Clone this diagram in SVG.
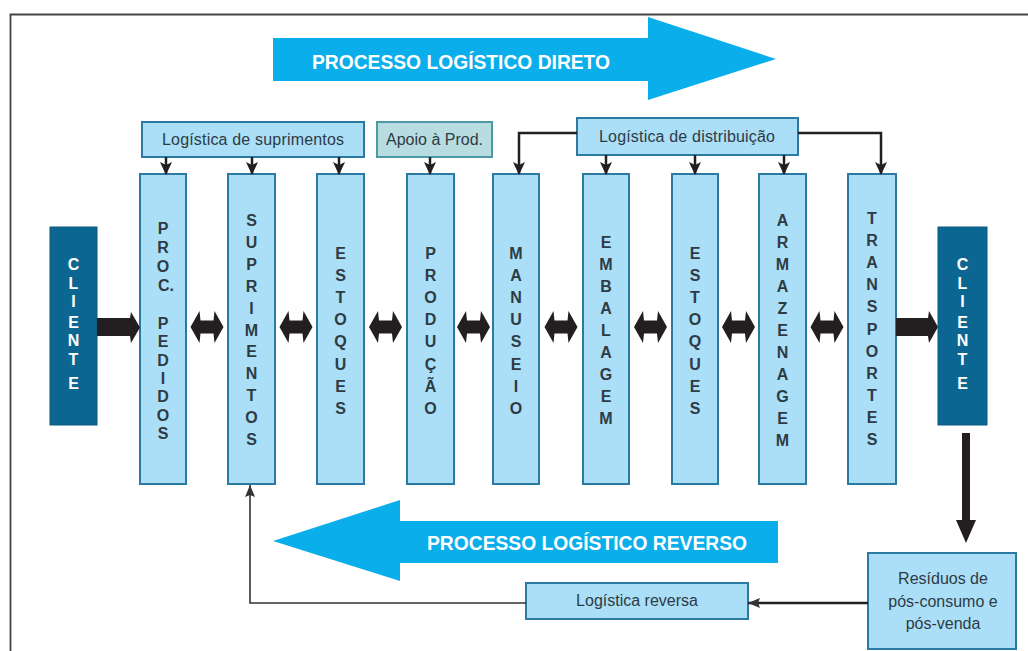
<svg xmlns="http://www.w3.org/2000/svg" width="1028" height="651" viewBox="0 0 1028 651">
<style>
.col{fill:#aadff7;stroke:#2a7aa3;stroke-width:2}
.lbl{fill:#aadff7;stroke:#2a7aa3;stroke-width:2}
.apoio{fill:#b8dde0;stroke:#4d9aa6;stroke-width:2}
.cli{fill:#0b6791;stroke:#0a5a80;stroke-width:1}
.big{fill:#0aaeea}
.ct{font-family:"Liberation Sans",Arial,sans-serif;font-weight:bold;font-size:16px;fill:#2e3b45;text-anchor:middle}
.cw{font-family:"Liberation Sans",Arial,sans-serif;font-weight:bold;font-size:16px;fill:#ffffff;text-anchor:middle}
.lt{font-family:"Liberation Sans",Arial,sans-serif;font-size:16px;fill:#2e3b45;text-anchor:middle}
.bt{font-family:"Liberation Sans",Arial,sans-serif;font-weight:bold;font-size:19.5px;fill:#ffffff}
.thick{fill:#231f20}
.ln{fill:none;stroke:#231f20;stroke-width:2.5}
.thin{fill:none;stroke:#333333;stroke-width:1.6}
</style>
<defs>
<marker id="ah" markerUnits="userSpaceOnUse" markerWidth="13" markerHeight="12" viewBox="0 0 13 12" refX="12" refY="6" orient="auto">
<path d="M0,0 L13,6 L0,12 L3,6 z" fill="#231f20"/>
</marker>
<marker id="ahs" markerUnits="userSpaceOnUse" markerWidth="12" markerHeight="10" viewBox="0 0 12 10" refX="12" refY="5" orient="auto">
<path d="M0,0 L12,5 L0,10 L2,5 z" fill="#333333"/>
</marker>
<path id="dbl" d="M-16.5,0 L-7.5,-16 L-6.5,-6.5 L6.5,-6.5 L7.5,-16 L16.5,0 L7.5,16 L6.5,6.5 L-6.5,6.5 L-7.5,16 Z"/>
</defs>

<rect width="1028" height="651" fill="#ffffff"/>
<path d="M10.5,651 L10.5,14.5 L1028,14.5" fill="none" stroke="#444444" stroke-width="1.8"/>

<g id="seta-direto">
<path class="big" d="M273,38 L648,38 L648,17 L776,59 L648,100 L648,81 L273,81 Z"/>
<text class="bt" x="312" y="69" textLength="298" lengthAdjust="spacingAndGlyphs">PROCESSO LOGÍSTICO DIRETO</text>
</g>

<g id="seta-reverso">
<path class="big" d="M273,541 L400,500 L400,521 L778,521 L778,563 L400,563 L400,581 Z"/>
<text class="bt" x="427" y="550" textLength="320" lengthAdjust="spacingAndGlyphs">PROCESSO LOGÍSTICO REVERSO</text>
</g>

<g id="log-suprimentos">
<rect class="lbl" x="142" y="122" width="222" height="35"/>
<text class="lt" x="253" y="145" textLength="182" lengthAdjust="spacing">Logística de suprimentos</text>
</g>
<g id="apoio-prod">
<rect class="apoio" x="377" y="122" width="115" height="35"/>
<text class="lt" x="434.5" y="145">Apoio à Prod.</text>
</g>
<g id="log-distribuicao">
<rect class="lbl" x="577" y="118" width="221" height="37"/>
<text class="lt" x="687" y="142" textLength="176" lengthAdjust="spacing">Logística de distribuição</text>
</g>

<g id="cliente-1">
<rect class="cli" x="50" y="227" width="47" height="198"/>
<text class="cw"><tspan x="73.5" y="270">C</tspan><tspan x="73.5" y="289">L</tspan><tspan x="73.5" y="307">I</tspan><tspan x="73.5" y="328">E</tspan><tspan x="73.5" y="346">N</tspan><tspan x="73.5" y="365">T</tspan><tspan x="73.5" y="389">E</tspan></text>
</g>

<g id="proc-pedidos">
<rect class="col" x="140" y="174" width="46" height="310"/>
<text class="ct"><tspan x="163" y="234">P</tspan><tspan x="163" y="253">R</tspan><tspan x="163" y="272">O</tspan><tspan x="166" y="291">C.</tspan><tspan x="163" y="329">P</tspan><tspan x="163" y="347.3">E</tspan><tspan x="163" y="365.6">D</tspan><tspan x="163" y="383.9">I</tspan><tspan x="163" y="402.2">D</tspan><tspan x="163" y="420.5">O</tspan><tspan x="163" y="438.8">S</tspan></text>
</g>

<g id="suprimentos">
<rect class="col" x="228" y="174" width="47" height="310"/>
<text class="ct"><tspan x="251.5" y="226">S</tspan><tspan x="251.5" y="247.9">U</tspan><tspan x="251.5" y="269.8">P</tspan><tspan x="251.5" y="291.7">R</tspan><tspan x="251.5" y="313.6">I</tspan><tspan x="251.5" y="335.5">M</tspan><tspan x="251.5" y="357.4">E</tspan><tspan x="251.5" y="379.3">N</tspan><tspan x="251.5" y="401.2">T</tspan><tspan x="251.5" y="423.1">O</tspan><tspan x="251.5" y="445">S</tspan></text>
</g>

<g id="estoques-1">
<rect class="col" x="317" y="174" width="47" height="310"/>
<text class="ct"><tspan x="340.5" y="259">E</tspan><tspan x="340.5" y="281.1">S</tspan><tspan x="340.5" y="303.2">T</tspan><tspan x="340.5" y="325.3">O</tspan><tspan x="340.5" y="347.4">Q</tspan><tspan x="340.5" y="369.5">U</tspan><tspan x="340.5" y="391.6">E</tspan><tspan x="340.5" y="413.7">S</tspan></text>
</g>

<g id="producao">
<rect class="col" x="407" y="174" width="47" height="310"/>
<text class="ct"><tspan x="430.5" y="259">P</tspan><tspan x="430.5" y="281.1">R</tspan><tspan x="430.5" y="303.2">O</tspan><tspan x="430.5" y="325.3">D</tspan><tspan x="430.5" y="347.4">U</tspan><tspan x="430.5" y="369.5">Ç</tspan><tspan x="430.5" y="391.6">Ã</tspan><tspan x="430.5" y="413.7">O</tspan></text>
</g>

<g id="manuseio">
<rect class="col" x="493" y="174" width="46" height="310"/>
<text class="ct"><tspan x="516" y="259">M</tspan><tspan x="516" y="281.1">A</tspan><tspan x="516" y="303.2">N</tspan><tspan x="516" y="325.3">U</tspan><tspan x="516" y="347.4">S</tspan><tspan x="516" y="369.5">E</tspan><tspan x="516" y="391.6">I</tspan><tspan x="516" y="413.7">O</tspan></text>
</g>

<g id="embalagem">
<rect class="col" x="583" y="174" width="46" height="310"/>
<text class="ct"><tspan x="606" y="248">E</tspan><tspan x="606" y="270">M</tspan><tspan x="606" y="292">B</tspan><tspan x="606" y="314">A</tspan><tspan x="606" y="336">L</tspan><tspan x="606" y="358">A</tspan><tspan x="606" y="380">G</tspan><tspan x="606" y="402">E</tspan><tspan x="606" y="424">M</tspan></text>
</g>

<g id="estoques-2">
<rect class="col" x="672" y="174" width="46" height="310"/>
<text class="ct"><tspan x="695" y="259">E</tspan><tspan x="695" y="281.1">S</tspan><tspan x="695" y="303.2">T</tspan><tspan x="695" y="325.3">O</tspan><tspan x="695" y="347.4">Q</tspan><tspan x="695" y="369.5">U</tspan><tspan x="695" y="391.6">E</tspan><tspan x="695" y="413.7">S</tspan></text>
</g>

<g id="armazenagem">
<rect class="col" x="759" y="174" width="47" height="310"/>
<text class="ct"><tspan x="782.5" y="226">A</tspan><tspan x="782.5" y="248">R</tspan><tspan x="782.5" y="270">M</tspan><tspan x="782.5" y="292">A</tspan><tspan x="782.5" y="314">Z</tspan><tspan x="782.5" y="336">E</tspan><tspan x="782.5" y="358">N</tspan><tspan x="782.5" y="380">A</tspan><tspan x="782.5" y="402">G</tspan><tspan x="782.5" y="424">E</tspan><tspan x="782.5" y="446">M</tspan></text>
</g>

<g id="transportes">
<rect class="col" x="848" y="174" width="48" height="310"/>
<text class="ct"><tspan x="872" y="224">T</tspan><tspan x="872" y="246.1">R</tspan><tspan x="872" y="268.2">A</tspan><tspan x="872" y="290.3">N</tspan><tspan x="872" y="312.4">S</tspan><tspan x="872" y="334.5">P</tspan><tspan x="872" y="356.6">O</tspan><tspan x="872" y="378.7">R</tspan><tspan x="872" y="400.8">T</tspan><tspan x="872" y="422.9">E</tspan><tspan x="872" y="445">S</tspan></text>
</g>

<g id="cliente-2">
<rect class="cli" x="938" y="227" width="49" height="198"/>
<text class="cw"><tspan x="962.5" y="270">C</tspan><tspan x="962.5" y="289">L</tspan><tspan x="962.5" y="307">I</tspan><tspan x="962.5" y="328">E</tspan><tspan x="962.5" y="346">N</tspan><tspan x="962.5" y="365">T</tspan><tspan x="962.5" y="389">E</tspan></text>
</g>

<g id="residuos">
<rect class="lbl" x="868" y="553" width="148" height="96"/>
<text class="lt"><tspan x="943" y="584">Resíduos de</tspan><tspan x="943" y="607">pós-consumo e</tspan><tspan x="943" y="629">pós-venda</tspan></text>
</g>

<g id="log-reversa">
<rect class="lbl" x="526" y="583" width="222" height="36"/>
<text class="lt" x="637" y="606">Logística reversa</text>
</g>

<g id="conectores">
<line class="ln" x1="166" y1="157" x2="166" y2="174" marker-end="url(#ah)"/>
<line class="ln" x1="252" y1="157" x2="252" y2="174" marker-end="url(#ah)"/>
<line class="ln" x1="339" y1="157" x2="339" y2="174" marker-end="url(#ah)"/>
<line class="ln" x1="430" y1="157" x2="430" y2="174" marker-end="url(#ah)"/>
<line class="ln" x1="606" y1="155" x2="606" y2="174" marker-end="url(#ah)"/>
<line class="ln" x1="695" y1="155" x2="695" y2="174" marker-end="url(#ah)"/>
<line class="ln" x1="784" y1="155" x2="784" y2="174" marker-end="url(#ah)"/>
<path class="ln" d="M577,133 L519,133 L519,174" marker-end="url(#ah)"/>
<path class="ln" d="M798,133 L881,133 L881,174" marker-end="url(#ah)"/>

<path class="thick" d="M97,318 L130,318 L131,312 L140,327.5 L131,343 L130,336 L97,336 Z"/>
<use class="thick" href="#dbl" x="207" y="327"/>
<use class="thick" href="#dbl" x="296" y="327"/>
<use class="thick" href="#dbl" x="385.5" y="327"/>
<use class="thick" href="#dbl" x="473.5" y="327"/>
<use class="thick" href="#dbl" x="561" y="327"/>
<use class="thick" href="#dbl" x="650.5" y="327"/>
<use class="thick" href="#dbl" x="738.5" y="327"/>
<use class="thick" href="#dbl" x="827" y="327"/>
<path class="thick" d="M896,318 L928,318 L929,311 L938,327 L929,343 L928,336 L896,336 Z"/>

<path class="thick" d="M962,433 L970,433 L970,520 L976,520 L966,543 L956,520 L962,520 Z"/>

<line class="ln" x1="868" y1="603" x2="748" y2="603" stroke-width="2" marker-end="url(#ahs)"/>
<path class="thin" d="M526,603 L250,603 L250,485" marker-end="url(#ahs)"/>
</g>
</svg>
